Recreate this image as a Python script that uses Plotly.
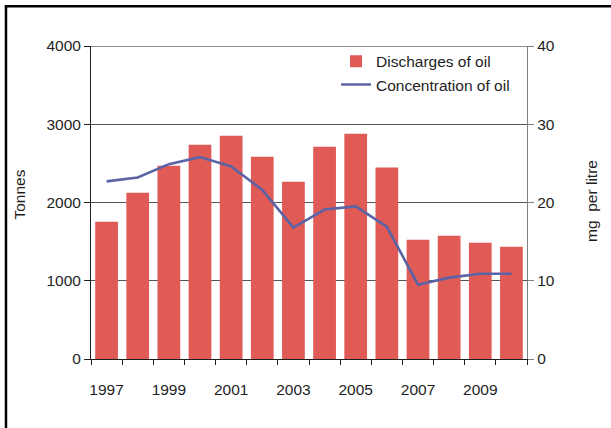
import plotly.graph_objects as go

# Annual figures
years = list(range(1997, 2011))
discharges = [1755, 2125, 2470, 2739, 2854, 2585, 2266, 2713, 2879, 2447, 1525, 1576, 1486, 1435]
concentration = [22.7, 23.2, 24.9, 25.8, 24.6, 21.6, 16.8, 19.1, 19.5, 16.9, 9.5, 10.4, 10.9, 10.9]

year_labels = ["1997", "1999", "2001", "2003", "2005", "2007", "2009"]
tonnes_ticks = [0, 1000, 2000, 3000, 4000]
mg_ticks = [0, 10, 20, 30, 40]

FONT = "Liberation Sans, Arial, sans-serif"
TXT = "#1e1e1e"
BAR = "#E05A56"
LINE = "#5B63A7"

fig = go.Figure()
fig.add_trace(go.Bar(
    x=years, y=discharges, name="Discharges of oil",
    marker=dict(color=BAR, line=dict(width=0)),
))
fig.add_trace(go.Scatter(
    x=years, y=concentration, name="Concentration of oil",
    yaxis="y2", mode="lines", line=dict(color=LINE, width=2.6),
))

# ticks sit on the boundaries between years
boundaries = [y - 0.5 for y in years] + [years[-1] + 0.5]

fig.update_layout(
    width=611, height=428, autosize=False,
    margin=dict(l=91, r=84, t=46, b=69, pad=0),
    paper_bgcolor="white", plot_bgcolor="white",
    font=dict(family=FONT, size=15.5, color=TXT),
    bargap=0.27,
    showlegend=True,
    legend=dict(
        x=0.562, y=1.004, xanchor="left", yanchor="top",
        bgcolor="rgba(0,0,0,0)", borderwidth=0,
        font=dict(family=FONT, size=15.5, color=TXT),
        tracegroupgap=0, itemwidth=30,
    ),
    xaxis=dict(
        type="linear", range=[boundaries[0], boundaries[-1]],
        tickvals=[int(v) for v in year_labels], ticktext=year_labels,
        ticks="outside", ticklen=16, tickcolor="rgba(0,0,0,0)",
        showline=True, linecolor=TXT, linewidth=1,
        showgrid=False, zeroline=False,
        minor=dict(tickvals=boundaries, ticks="outside", ticklen=5,
                   tickcolor=TXT, tickwidth=1, showgrid=False),
        tickfont=dict(family=FONT, size=15.5, color=TXT),
        fixedrange=True,
    ),
    yaxis=dict(
        range=[tonnes_ticks[0], tonnes_ticks[-1]], tickvals=tonnes_ticks,
        ticks="outside", ticklen=6, tickcolor=TXT, tickwidth=1,
        showline=True, linecolor=TXT, linewidth=1,
        showgrid=True, gridcolor="#555555", gridwidth=1.4,
        zeroline=False,
        tickfont=dict(family=FONT, size=15.5, color=TXT),
    ),
    yaxis2=dict(
        overlaying="y", side="right",
        range=[mg_ticks[0], mg_ticks[-1]], tickvals=mg_ticks,
        ticks="outside", ticklen=6, tickcolor="#808080", tickwidth=1,
        showline=True, linecolor="#808080", linewidth=1.3,
        showgrid=False, zeroline=False,
        tickfont=dict(family=FONT, size=15.5, color=TXT),
    ),
    shapes=[
        # dark rule along the top value of the left scale
        dict(type="line", xref="paper", yref="y", x0=0, x1=1,
             y0=tonnes_ticks[-1], y1=tonnes_ticks[-1],
             line=dict(color=TXT, width=1.2)),
        # outer frame
        dict(type="rect", xref="paper", yref="paper",
             x0=-0.195, x1=1.25, y0=-0.3, y1=1.127,
             line=dict(color="black", width=2.5), fillcolor="rgba(0,0,0,0)",
             layer="above"),
    ],
    annotations=[
        dict(text="Tonnes", xref="paper", yref="paper", x=-0.164, y=0.527,
             textangle=-90, showarrow=False, xanchor="center", yanchor="middle",
             font=dict(family=FONT, size=15.5, color=TXT)),
        dict(text="mg  per litre", xref="paper", yref="paper", x=1.149, y=0.505,
             textangle=-90, showarrow=False, xanchor="center", yanchor="middle",
             font=dict(family=FONT, size=15.5, color=TXT)),
    ],
)

fig.write_html("out.html", config=dict(displayModeBar=False))
